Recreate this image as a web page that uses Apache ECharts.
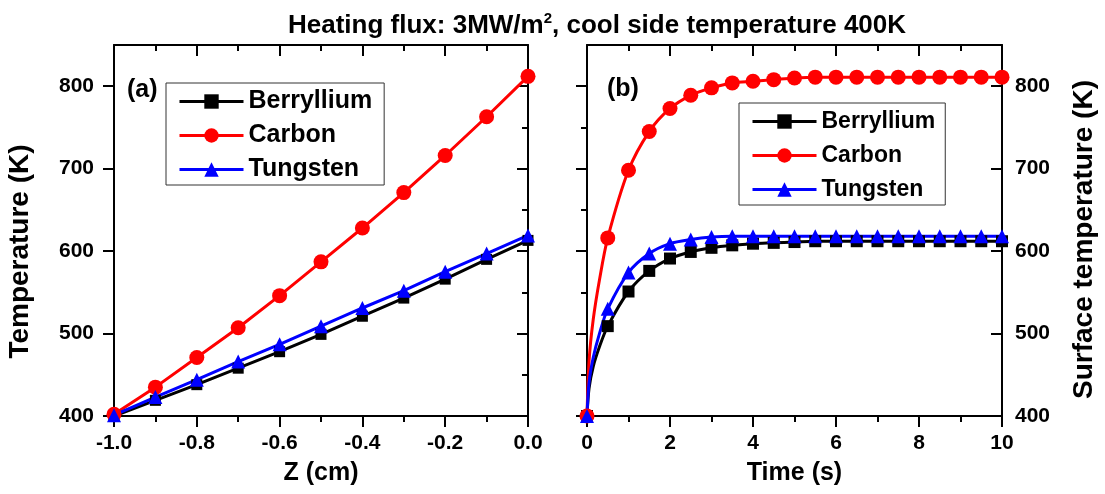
<!DOCTYPE html>
<html>
<head>
<meta charset="utf-8">
<script src="https://cdn.jsdelivr.net/npm/echarts@6/dist/echarts.min.js"></script>
<style>html,body{margin:0;padding:0;background:#fff}#c{width:1105px;height:494px}</style>
</head>
<body>
<div id="c"></div>
<script>
// ---- data ----
const seriesNames = ['Berryllium', 'Carbon', 'Tungsten'];
// panel (a): temperature vs depth
const zA = [-1.0, -0.9, -0.8, -0.7, -0.6, -0.5, -0.4, -0.3, -0.2, -0.1, 0.0];
const beA = [400, 419, 438, 458, 478, 499, 521, 543, 566, 590, 613];
const cA  = [402, 435, 471, 507, 546, 587, 628, 671, 716, 763, 812];
const wA  = [401, 423, 444, 466, 487, 509, 531, 552, 575, 597, 619];
// panel (b): surface temperature vs time (marker points)
const tB = [0, 0.5, 1, 1.5, 2, 2.5, 3, 3.5, 4, 4.5, 5, 5.5, 6, 6.5, 7, 7.5, 8, 8.5, 9, 9.5, 10];
const beB = [400, 509, 551, 576, 591, 599, 604, 607, 609, 610, 611, 612, 612, 612, 612, 612, 612, 612, 612, 612, 612];
const cB  = [400, 616, 698, 745, 773, 789, 798, 804, 806, 808, 810, 811, 811, 811, 811, 811, 811, 811, 811, 811, 811];
const wB  = [400, 530, 574, 597, 609, 614, 617, 618, 618, 618, 618, 618, 618, 618, 618, 618, 618, 618, 618, 618, 618];
// panel (b): extra curve points (no markers) read near t = 0
const tE = [0.05, 0.15, 0.3];
const beE = [434, 460, 484];
const cE  = [467, 517, 565];
const wE  = [441, 471, 500];
// tick values
const xTicksA = [-1.0, -0.8, -0.6, -0.4, -0.2, 0.0];
const xTicksB = [0, 2, 4, 6, 8, 10];
const yMajor = [400, 500, 600, 700, 800];
const yMinor = [450, 550, 650, 750];

const FONT = '"Liberation Sans", Arial, sans-serif';
const colors = ['#000000', '#ff0000', '#0000ff'];
const symbols = ['rect', 'circle', 'triangle'];

function buildB(vals, early) {
  const pts = tB.map((t, i) => ({ value: [t, vals[i]] }));
  tE.forEach((t, i) => pts.push({ value: [t, early[i]], symbol: 'none' }));
  pts.sort((a, b) => a.value[0] - b.value[0]);
  return pts;
}

const axisLine = { show: true, onZero: false, lineStyle: { color: '#000', width: 2 } };
const lblStyle = { color: '#000', fontFamily: FONT, fontWeight: 'bold', fontSize: 21 };
const nameStyle = { color: '#000', fontFamily: FONT, fontWeight: 'bold', fontSize: 25 };

function xAxes(grid, min, max, interval, ticks, name, fmt) {
  return [
    { type: 'value', gridIndex: grid, position: 'bottom', min, max, interval,
      axisLine, splitLine: { show: false },
      axisTick: { show: true, inside: false, length: 11, lineStyle: { width: 2, color: '#000' } },
      minorTick: { show: true, splitNumber: 2, length: 6, lineStyle: { width: 2, color: '#000' } },
      axisLabel: Object.assign({ show: true, margin: 17, formatter: fmt, customValues: ticks }, lblStyle),
      name, nameLocation: 'middle', nameGap: 45, nameTextStyle: nameStyle },
    { type: 'value', gridIndex: grid, position: 'top', min, max, interval,
      axisLine, splitLine: { show: false },
      axisTick: { show: true, inside: true, length: 11, lineStyle: { width: 2, color: '#000' } },
      minorTick: { show: true, splitNumber: 2, length: 6, lineStyle: { width: 2, color: '#000' } },
      axisLabel: { show: false } }
  ];
}

function yAxisPair(grid, pos, inside, labels, name, nameGap, shift) {
  const major = { type: 'value', gridIndex: grid, position: pos, min: 400, max: 850,
    axisLine, splitLine: { show: false },
    axisTick: { show: true, inside, length: 11, customValues: yMajor, lineStyle: { width: 2, color: '#000' } },
    axisLabel: Object.assign({ show: labels, margin: pos === 'left' ? 20 : 13, customValues: yMajor }, lblStyle) };
  if (name) {
    Object.assign(major, { name, nameLocation: 'middle', nameGap,
      nameTextStyle: Object.assign({}, nameStyle, { fontSize: 28, padding: [0, shift, 0, 0] }) });
  }
  const minor = { type: 'value', gridIndex: grid, position: pos, min: 400, max: 850,
    axisLine: { show: false }, splitLine: { show: false }, axisLabel: { show: false },
    axisTick: { show: true, inside, length: 6, customValues: yMinor, lineStyle: { width: 2, color: '#000' } } };
  return [major, minor];
}

function mkSeries(name, idx, data, xi, yi, smooth, size) {
  return {
    type: 'line', name, data, xAxisIndex: xi, yAxisIndex: yi,
    smooth,
    symbol: symbols[idx], symbolSize: size[idx], showAllSymbol: true,
    lineStyle: { color: colors[idx], width: 3 },
    itemStyle: { color: colors[idx] },
    emphasis: { disabled: true }, animation: false
  };
}

function legendBase(fs) {
  return {
    orient: 'vertical', data: seriesNames, itemWidth: 64, itemHeight: 18, itemGap: 34 - Math.max(18, fs),
    backgroundColor: '#fff', borderColor: '#333', borderWidth: 1, borderRadius: 0,
    lineStyle: { width: 3 },
    textStyle: { color: '#000', fontFamily: FONT, fontWeight: 'bold', fontSize: fs },
    selectedMode: false
  };
}

const sizeA = [11, 15, 14];
const sizeB = [12, 15, 14];

const option = {
  backgroundColor: '#fff',
  animation: false,
  title: {
    text: 'Heating flux: 3MW/m{sup|2}, cool side temperature 400K',
    left: 283, top: 6,
    textStyle: { color: '#000', fontFamily: FONT, fontWeight: 'bold', fontSize: 26, lineHeight: 30,
      rich: { sup: { fontFamily: FONT, fontWeight: 'bold', fontSize: 15, verticalAlign: 'top', lineHeight: 30, padding: [0, 0, 14, 0], color: '#000' } } }
  },
  grid: [
    { left: 114, right: 577, top: 45, bottom: 78 },
    { left: 587, right: 103, top: 45, bottom: 78 }
  ],
  legend: [
    Object.assign(legendBase(25), { left: 166, top: 83, padding: [6, 12, 3, 12] }),
    Object.assign(legendBase(23), { left: 739, top: 103, padding: [7, 10, 4, 12] })
  ],
  xAxis: [
    ...xAxes(0, -1.0, 0.0, 0.2, xTicksA, 'Z (cm)', v => v.toFixed(1)),
    ...xAxes(1, 0, 10, 2, xTicksB, 'Time (s)', v => String(v))
  ],
  yAxis: [
    ...yAxisPair(0, 'left', false, true, 'Temperature (K)', 80, 42),
    ...yAxisPair(0, 'right', true, false),
    ...yAxisPair(1, 'left', false, false),
    ...yAxisPair(1, 'right', true, true, 'Surface temperature (K)', 68, 18)
  ],
  graphic: [
    { type: 'text', left: 127, top: 78, style: { text: '(a)', fill: '#000', font: 'bold 25px ' + FONT } },
    { type: 'text', left: 607, top: 77, style: { text: '(b)', fill: '#000', font: 'bold 25px ' + FONT } }
  ],
  series: [
    mkSeries('Berryllium', 0, zA.map((z, i) => [z, beA[i]]), 0, 0, false, sizeA),
    mkSeries('Carbon', 1, zA.map((z, i) => [z, cA[i]]), 0, 0, false, sizeA),
    mkSeries('Tungsten', 2, zA.map((z, i) => [z, wA[i]]), 0, 0, false, sizeA),
    mkSeries('Berryllium', 0, buildB(beB, beE), 2, 4, 0.3, sizeB),
    mkSeries('Carbon', 1, buildB(cB, cE), 2, 4, 0.3, sizeB),
    mkSeries('Tungsten', 2, buildB(wB, wE), 2, 4, 0.3, sizeB)
  ]
};

const chart = echarts.init(document.getElementById('c'), null, { renderer: 'canvas' });
chart.setOption(option);
</script>
</body>
</html>
